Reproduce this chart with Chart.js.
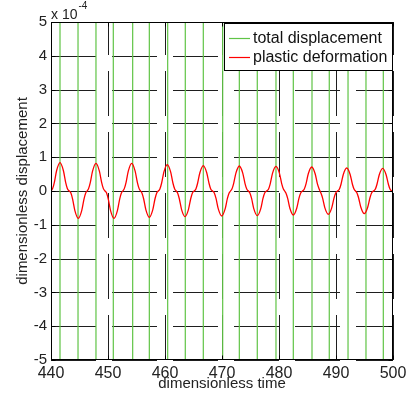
<!DOCTYPE html>
<html>
<head>
<meta charset="utf-8">
<script src="https://cdn.jsdelivr.net/npm/chart.js@4.4.1/dist/chart.umd.min.js"></script>
<style>
    html, body { margin: 0; padding: 0; background: #fff; }
    #wrap { width: 406px; height: 396px; }
</style>
</head>
<body>
<div id="wrap"><canvas id="myChart" width="406" height="396"></canvas></div>
<script>
// Valores en unidades de 1e-4 (el eje lleva "x 10^-4")
const ticksX = [440, 450, 460, 470, 480, 490, 500];
const ticksY = [-5, -4, -3, -2, -1, 0, 1, 2, 3, 4, 5];

// deformacion plastica (rojo), leida punto a punto de la figura
const tiempoPlastico = [
    440, 440.28, 440.58, 440.98, 441.58,
    442.18, 442.58, 442.88, 443.19, 443.49, 443.79, 444.19, 444.79,
    445.39, 445.79, 446.09, 446.34, 446.59, 446.89, 447.29, 447.89,
    448.49, 448.89, 449.19, 449.47, 449.75, 450.05, 450.45, 451.05,
    451.65, 452.05, 452.35, 452.61, 452.86, 453.16, 453.56, 454.16,
    454.76, 455.16, 455.46, 455.71, 455.95, 456.25, 456.65, 457.25,
    457.85, 458.25, 458.55, 458.83, 459.10, 459.40, 459.80, 460.40,
    461.00, 461.40, 461.70, 461.96, 462.21, 462.51, 462.91, 463.51,
    464.11, 464.51, 464.81, 465.12, 465.42, 465.72, 466.12, 466.72,
    467.32, 467.72, 468.02, 468.34, 468.65, 468.95, 469.35, 469.95,
    470.55, 470.95, 471.25, 471.50, 471.74, 472.04, 472.44, 473.04,
    473.64, 474.04, 474.34, 474.62, 474.89, 475.19, 475.59, 476.19,
    476.79, 477.19, 477.49, 477.83, 478.17, 478.47, 478.87, 479.47,
    480.07, 480.47, 480.77, 480.99, 481.21, 481.51, 481.91, 482.51,
    483.11, 483.51, 483.81, 484.13, 484.44, 484.74, 485.14, 485.74,
    486.34, 486.74, 487.04, 487.20, 487.35, 487.65, 488.05, 488.65,
    489.25, 489.65, 489.95, 490.27, 490.58, 490.88, 491.28, 491.88,
    492.48, 492.88, 493.18, 493.42, 493.66, 493.96, 494.36, 494.96,
    495.56, 495.96, 496.26, 496.58, 496.89, 497.19, 497.59, 498.19,
    498.79, 499.19, 499.49, 499.76, 500
];
const deformacionPlastica = [
    0, .07, .25, .60, .84,
    .60, .25, .07, 0, -.06, -.24, -.58, -.81,
    -.58, -.24, -.06, 0, .07, .25, .59, .82,
    .59, .25, .07, 0, -.06, -.24, -.58, -.81,
    -.58, -.24, -.06, 0, .07, .25, .59, .82,
    .59, .25, .07, 0, -.06, -.23, -.56, -.78,
    -.56, -.23, -.06, 0, .06, .23, .56, .78,
    .56, .23, .06, 0, -.06, -.23, -.55, -.76,
    -.55, -.23, -.06, 0, .06, .23, .54, .75,
    .54, .23, .06, 0, -.06, -.22, -.53, -.74,
    -.53, -.22, -.06, 0, .06, .22, .53, .74,
    .53, .22, .06, 0, -.06, -.22, -.53, -.73,
    -.53, -.22, -.06, 0, .06, .22, .53, .73,
    .53, .22, .06, 0, -.06, -.21, -.51, -.71,
    -.51, -.21, -.06, 0, .06, .21, .51, .71,
    .51, .21, .06, 0, -.06, -.21, -.50, -.69,
    -.50, -.21, -.06, 0, .05, .20, .49, .68,
    .49, .20, .05, 0, -.05, -.20, -.48, -.67,
    -.48, -.20, -.05, 0, .05, .20, .48, .67,
    .48, .20, .05, 0, -.04
];

// desplazamiento total (verde): sale de la ventana, solo se ven los cruces
const tiempoCruces = [
    441.58, 444.74, 447.89, 450.93, 454.33, 457.25, 460.47, 463.56, 466.72, 470.12,
    473.04, 476.19, 479.47, 482.51, 485.79, 488.82, 492.11, 495.26, 498.30
];
const nivelFuera = 6; // mas alla de +-5, el resto queda recortado

const fuente = '"Liberation Sans", Arial, Helvetica, sans-serif';

function puntosTotales() {
    const pts = [];
    tiempoCruces.forEach((t, i) => {
        const s = i % 2 === 0 ? 1 : -1;
        pts.push({ x: t, y: -nivelFuera * s });
        pts.push({ x: t, y: nivelFuera * s });
    });
    return pts;
}

// Rejilla punteada, caja, marcas hacia dentro, etiquetas x, exponente y leyenda
const marcoMatlab = {
    id: 'marcoMatlab',
    beforeDatasetsDraw(chart) {
        const { ctx, chartArea: a, scales: { x, y } } = chart;
        ctx.save();
        ctx.strokeStyle = '#1e1e1e';
        ctx.lineWidth = 1;
        ctx.setLineDash([45, 16]);
        ticksY.forEach(v => {
            const py = Math.round(y.getPixelForValue(v)) + 0.5;
            ctx.beginPath(); ctx.moveTo(a.left, py); ctx.lineTo(a.right, py); ctx.stroke();
        });
        ctx.lineDashOffset = 12;
        ticksX.forEach(v => {
            const px = Math.round(x.getPixelForValue(v)) + 0.5;
            ctx.beginPath(); ctx.moveTo(px, a.top); ctx.lineTo(px, a.bottom); ctx.stroke();
        });
        ctx.restore();
    },
    afterDatasetsDraw(chart) {
        const { ctx, chartArea: a, scales: { x, y } } = chart;
        ctx.save();
        ctx.strokeStyle = '#000';
        ctx.lineWidth = 1;
        const L = Math.round(a.left) + 0.5, R = Math.round(a.right) - 0.5;
        const T = Math.round(a.top) + 0.5, B = Math.round(a.bottom) - 0.5;
        ctx.strokeRect(L, T, R - L, B - T);
        const largo = 4;
        ticksX.forEach(v => {
            const px = Math.round(x.getPixelForValue(v)) + 0.5;
            ctx.beginPath();
            ctx.moveTo(px, B); ctx.lineTo(px, B - largo);
            ctx.moveTo(px, T); ctx.lineTo(px, T + largo);
            ctx.stroke();
        });
        ticksY.forEach(v => {
            const py = Math.round(y.getPixelForValue(v)) + 0.5;
            ctx.beginPath();
            ctx.moveTo(L, py); ctx.lineTo(L + largo, py);
            ctx.moveTo(R, py); ctx.lineTo(R - largo, py);
            ctx.stroke();
        });

        // etiquetas del eje x
        ctx.fillStyle = '#222';
        ctx.font = '16px ' + fuente;
        ctx.textAlign = 'center';
        ctx.textBaseline = 'alphabetic';
        ticksX.forEach(v => {
            ctx.fillText(String(v), x.getPixelForValue(v), a.bottom + 18);
        });

        // x 10^-4
        ctx.textAlign = 'left';
        ctx.font = '14px ' + fuente;
        ctx.fillText('x 10', a.left, 19);
        const w = ctx.measureText('x 10').width;
        ctx.font = '10px ' + fuente;
        ctx.fillText('-4', a.left + w + 1, 9);

        // leyenda
        const lx = 224.5, ly = 23.5, lw = 168, lh = 47;
        ctx.fillStyle = '#fff';
        ctx.fillRect(lx, ly, lw, lh);
        ctx.strokeStyle = '#000';
        ctx.strokeRect(lx, ly, lw, lh);
        ctx.font = '16px ' + fuente;
        ctx.textBaseline = 'middle';
        const filas = [chart.data.datasets[0], chart.data.datasets[1]];
        filas.forEach((ds, i) => {
            const yy = 38.5 + i * 19;
            ctx.strokeStyle = ds.borderColor;
            ctx.lineWidth = 1.2;
            ctx.beginPath(); ctx.moveTo(229, yy); ctx.lineTo(250, yy); ctx.stroke();
            ctx.fillStyle = '#111';
            ctx.fillText(ds.label, 253, yy);
        });
        ctx.restore();
    }
};

document.addEventListener('DOMContentLoaded', () => {
    const ctx = document.getElementById('myChart').getContext('2d');
    new Chart(ctx, {
        type: 'line',
        data: {
            datasets: [{
                label: 'total displacement',
                data: puntosTotales(),
                borderColor: 'rgb(96,196,70)',
                borderWidth: 1.2,
                pointRadius: 0,
                tension: 0,
                clip: 0,
                order: 1
            }, {
                label: 'plastic deformation',
                data: tiempoPlastico.map((t, i) => ({ x: t, y: deformacionPlastica[i] })),
                borderColor: '#ff0000',
                borderWidth: 1.3,
                pointRadius: 0,
                cubicInterpolationMode: 'monotone',
                clip: 0,
                order: 0
            }]
        },
        options: {
            responsive: false,
            animation: false,
            events: [],
            layout: { padding: { top: 22, right: 13, left: 0, bottom: 0 } },
            plugins: { legend: { display: false }, tooltip: { enabled: false } },
            scales: {
                x: {
                    type: 'linear', min: 440, max: 500,
                    afterBuildTicks: s => { s.ticks = ticksX.map(v => ({ value: v })); },
                    afterFit: s => { s.height = 36; },
                    grid: { display: false, drawTicks: false },
                    border: { display: false },
                    ticks: { display: false },
                    title: {
                        display: true, text: 'dimensionless time', color: '#222',
                        font: { family: fuente, size: 15 }, padding: { top: 0, bottom: 3 }
                    }
                },
                y: {
                    type: 'linear', min: -5, max: 5,
                    afterBuildTicks: s => { s.ticks = ticksY.map(v => ({ value: v })); },
                    afterFit: s => { s.width = 51; },
                    grid: { display: false, drawTicks: false },
                    border: { display: false },
                    ticks: { color: '#222', padding: 4, font: { family: fuente, size: 15 } },
                    title: {
                        display: true, text: 'dimensionless displacement', color: '#222',
                        font: { family: fuente, size: 15 }, padding: { top: 14, bottom: 0 }
                    }
                }
            }
        },
        plugins: [marcoMatlab]
    });
});
</script>
</body>
</html>
